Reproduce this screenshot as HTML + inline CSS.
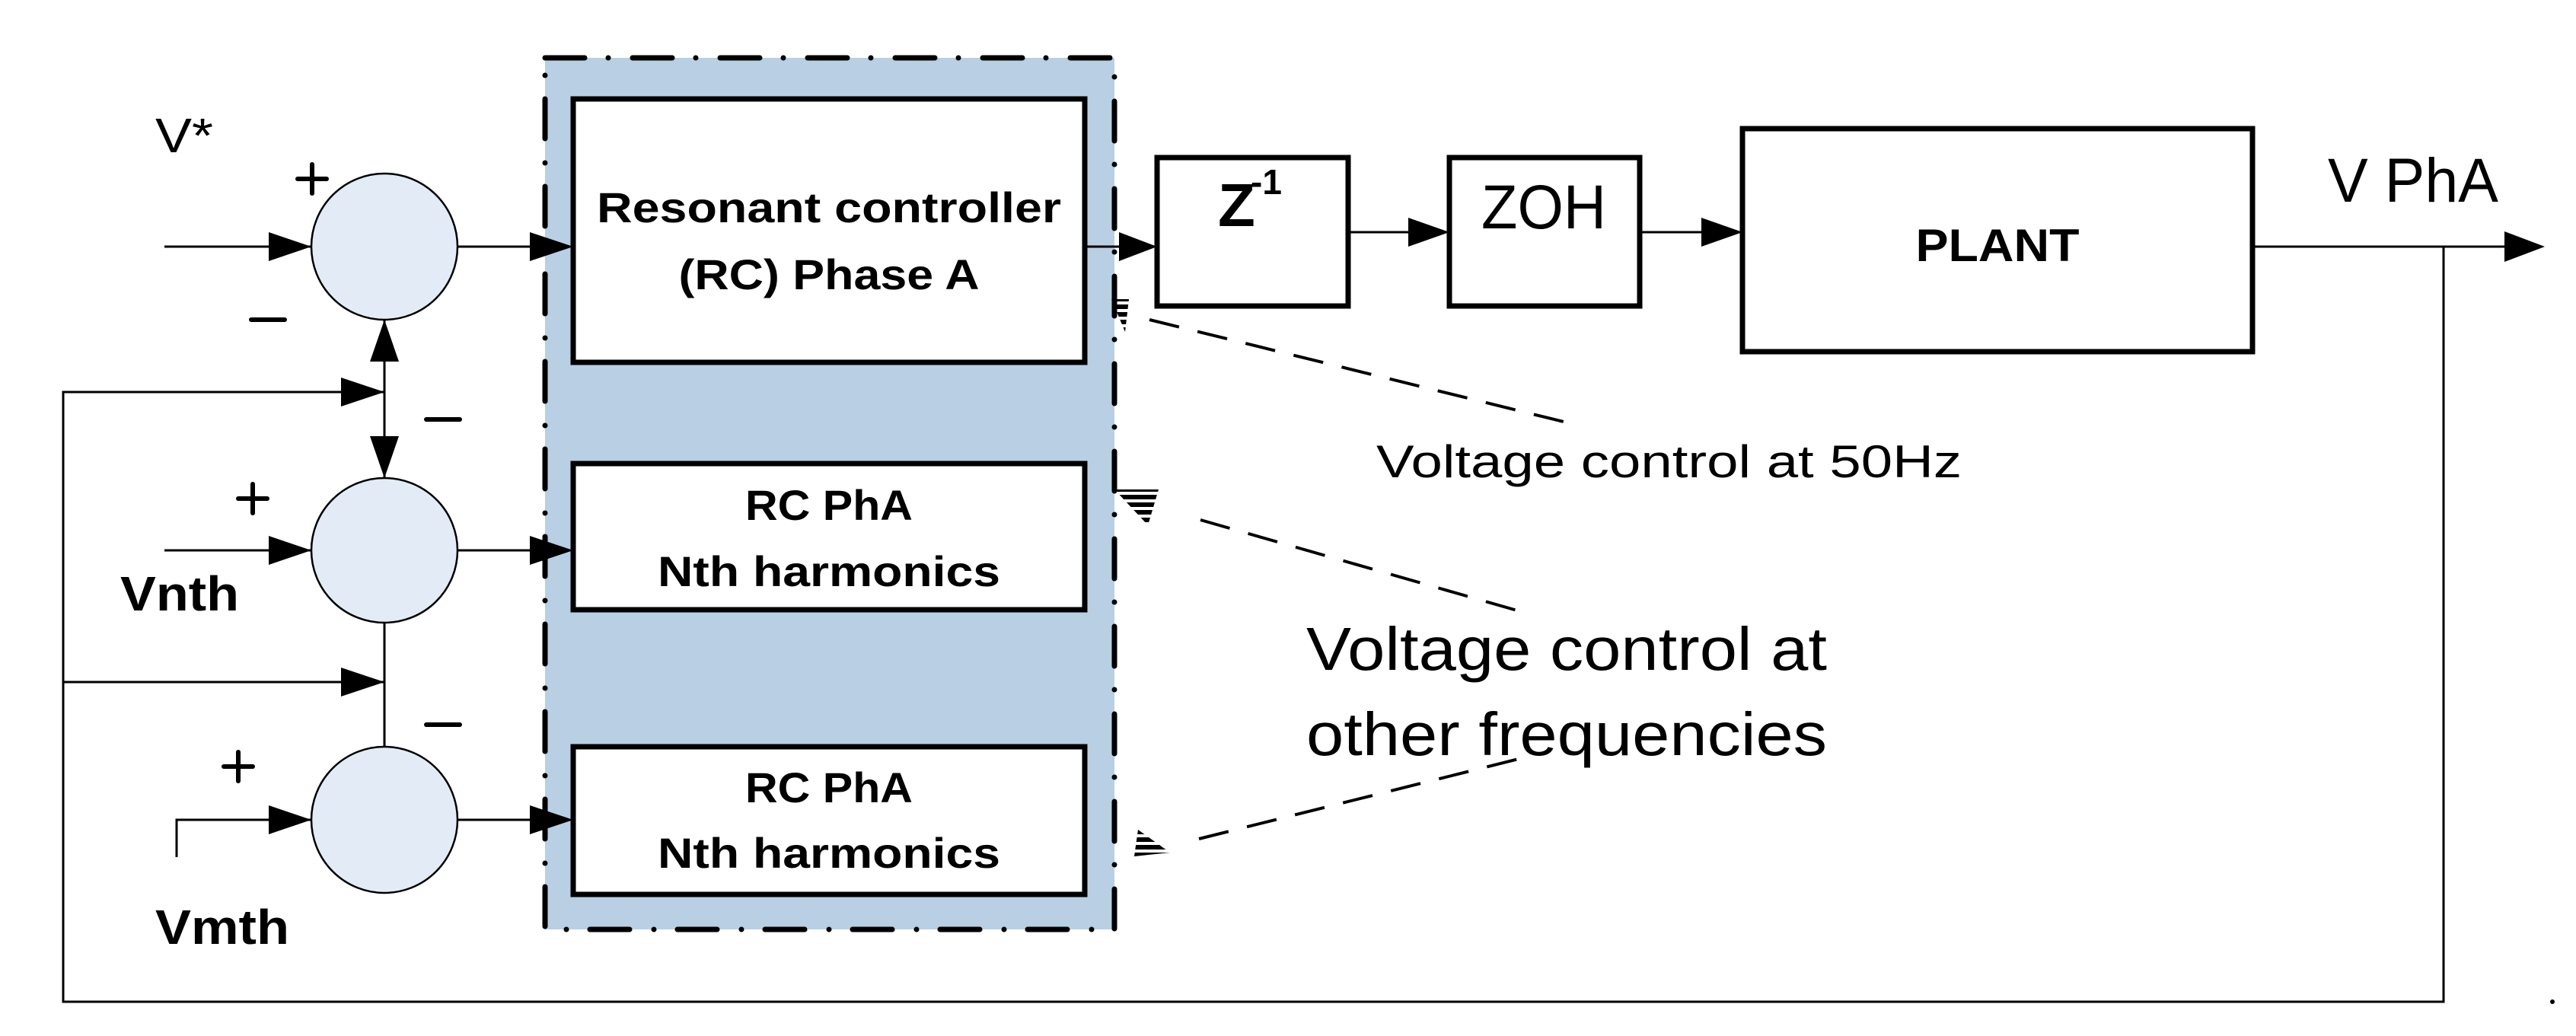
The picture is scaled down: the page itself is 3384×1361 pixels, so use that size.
<!DOCTYPE html>
<html><head><meta charset="utf-8"><style>html,body{margin:0;padding:0;background:#fff}svg{display:block}</style></head>
<body>
<svg width="3384" height="1361" viewBox="0 0 3384 1361" xmlns="http://www.w3.org/2000/svg" font-family="'Liberation Sans', sans-serif">
<defs>
<pattern id="h" width="8" height="10" patternUnits="userSpaceOnUse"><rect width="8" height="6" fill="#000"/></pattern>
</defs>
<style>
.l{stroke:#000;stroke-width:3;fill:none}
.c{fill:#e3ecf6;stroke:#000;stroke-width:2.5}
.b{fill:#fff;stroke:#000;stroke-width:7}
.t{font-weight:bold;fill:#000}
</style>
<rect x="716" y="76" width="748" height="1145" fill="#b9cfe3"/>
<rect x="716" y="76" width="748" height="1145" fill="none" stroke="#000" stroke-width="7" stroke-linecap="round" stroke-dasharray="52 31 0 32"/>
<rect class="b" x="753" y="130" width="672" height="346"/>
<rect class="b" x="753" y="609" width="672" height="192"/>
<rect class="b" x="753" y="981" width="672" height="194"/>
<text class="t" x="1089" y="292" font-size="56" text-anchor="middle" textLength="610" lengthAdjust="spacingAndGlyphs">Resonant controller</text>
<text class="t" x="1089" y="380" font-size="56" text-anchor="middle" textLength="395" lengthAdjust="spacingAndGlyphs">(RC) Phase A</text>
<text class="t" x="1089" y="683" font-size="56" text-anchor="middle" textLength="220" lengthAdjust="spacingAndGlyphs">RC PhA</text>
<text class="t" x="1089" y="770" font-size="56" text-anchor="middle" textLength="450" lengthAdjust="spacingAndGlyphs">Nth harmonics</text>
<text class="t" x="1089" y="1054" font-size="56" text-anchor="middle" textLength="220" lengthAdjust="spacingAndGlyphs">RC PhA</text>
<text class="t" x="1089" y="1140" font-size="56" text-anchor="middle" textLength="450" lengthAdjust="spacingAndGlyphs">Nth harmonics</text>
<ellipse class="c" cx="505" cy="324" rx="96" ry="96"/>
<ellipse class="c" cx="505" cy="723" rx="96" ry="95"/>
<ellipse class="c" cx="505" cy="1077" rx="96" ry="96"/>
<line class="l" x1="216" y1="324" x2="410" y2="324"/>
<line class="l" x1="216" y1="723" x2="410" y2="723"/>
<polyline class="l" points="232,1126 232,1077 410,1077"/>
<g fill="#000">
<path d="M353,305 L409,324 L353,343 z"/>
<path d="M353,704 L409,723 L353,742 z"/>
<path d="M353,1058 L409,1077 L353,1096 z"/>
<path d="M696,305 L753,324 L696,343 z"/>
<path d="M696,704 L753,723 L696,742 z"/>
<path d="M696,1058 L753,1077 L696,1096 z"/>
<path d="M486,475 L505,420 L524,475 z"/>
<path d="M486,573 L505,628 L524,573 z"/>
<path d="M448,496 L505,515 L448,534 z"/>
<path d="M448,877 L505,896 L448,915 z"/>
<path d="M1470,305 L1520,324 L1470,343 z"/>
<path d="M1850,286 L1904,305 L1850,324 z"/>
<path d="M2235,286 L2289,305 L2235,324 z"/>
<path d="M3290,304 L3343,324 L3290,344 z"/>
</g>
<line class="l" x1="601" y1="324" x2="700" y2="324"/>
<line class="l" x1="601" y1="723" x2="700" y2="723"/>
<line class="l" x1="601" y1="1077" x2="700" y2="1077"/>
<line class="l" x1="505" y1="420" x2="505" y2="628"/>
<line class="l" x1="505" y1="818" x2="505" y2="981"/>
<polyline class="l" points="505,515 83,515 83,1316 3210,1316 3210,324"/>
<line class="l" x1="83" y1="896" x2="505" y2="896"/>
<line class="l" x1="1425" y1="324" x2="1475" y2="324"/>
<line class="l" x1="1771" y1="305" x2="1855" y2="305"/>
<line class="l" x1="2154" y1="305" x2="2240" y2="305"/>
<line class="l" x1="2959" y1="324" x2="3295" y2="324"/>
<rect class="b" x="1520" y="207" width="251" height="195"/>
<rect class="b" x="1904" y="207" width="250" height="195"/>
<rect class="b" x="2289" y="169" width="670" height="293"/>
<text class="t" x="1600" y="297" font-size="80">Z</text>
<text class="t" x="1643" y="255" font-size="46">-1</text>
<text x="2028" y="300" font-size="82" text-anchor="middle" textLength="164" lengthAdjust="spacingAndGlyphs">ZOH</text>
<text class="t" x="2624" y="343" font-size="60" text-anchor="middle" textLength="215" lengthAdjust="spacingAndGlyphs">PLANT</text>
<text x="3058" y="265" font-size="82" textLength="224" lengthAdjust="spacingAndGlyphs">V PhA</text>
<text x="204" y="200" font-size="64" textLength="76" lengthAdjust="spacingAndGlyphs">V*</text>
<text class="t" x="158" y="802" font-size="64" textLength="156" lengthAdjust="spacingAndGlyphs">Vnth</text>
<text class="t" x="204" y="1240" font-size="64" textLength="176" lengthAdjust="spacingAndGlyphs">Vmth</text>
<g stroke="#000" stroke-width="6" stroke-linecap="round">
<line x1="391" y1="235" x2="429" y2="235"/><line x1="410" y1="216" x2="410" y2="254"/>
<line x1="313" y1="655" x2="351" y2="655"/><line x1="332" y1="636" x2="332" y2="674"/>
<line x1="294" y1="1007" x2="332" y2="1007"/><line x1="313" y1="988" x2="313" y2="1026"/>
<line x1="330" y1="420" x2="374" y2="420"/>
<line x1="560" y1="551" x2="604" y2="551"/>
<line x1="560" y1="952" x2="604" y2="952"/>
</g>
<text x="1808" y="627" font-size="60" textLength="769" lengthAdjust="spacingAndGlyphs">Voltage control at 50Hz</text>
<text x="1716" y="880" font-size="80" textLength="684" lengthAdjust="spacingAndGlyphs">Voltage control at</text>
<text x="1716" y="992" font-size="80" textLength="684" lengthAdjust="spacingAndGlyphs">other frequencies</text>
<g stroke="#000" stroke-width="4" stroke-dasharray="40 25" fill="none">
<line x1="1510" y1="420" x2="2058" y2="555"/>
<line x1="1577" y1="683" x2="2000" y2="804"/>
<line x1="1575" y1="1102" x2="1995" y2="997"/>
</g>
<path d="M1460,393 L1483,393 L1478,436 z" fill="url(#h)"/>
<path d="M1464,643 L1522,643 L1508,690 z" fill="url(#h)"/>
<path d="M1495,1090 L1537,1120 L1490,1125 z" fill="url(#h)"/>
<circle cx="3353" cy="1316" r="3" fill="#000"/>
</svg>
</body></html>
